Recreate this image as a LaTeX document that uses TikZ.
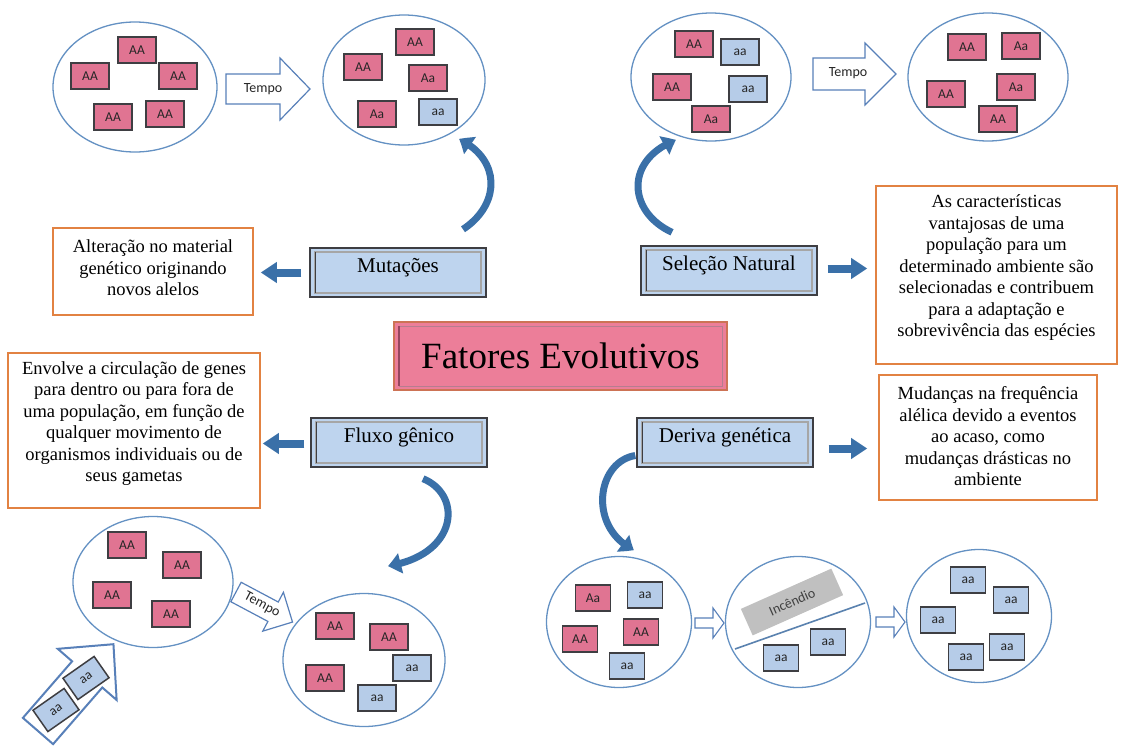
\documentclass[tikz,border=0pt]{standalone}
\usepackage{fontspec}
\setmainfont{Liberation Serif}
\newfontfamily\calib{Carlito}
\usetikzlibrary{arrows.meta,bending,shapes.geometric,calc}

\definecolor{popline}{RGB}{100,145,195}
\definecolor{pinkbox}{RGB}{224,116,146}
\definecolor{bluebox}{RGB}{182,204,232}
\definecolor{boxedge}{RGB}{62,62,66}
\definecolor{labelfill}{RGB}{190,212,238}
\definecolor{titlefill}{RGB}{236,126,153}
\definecolor{titleedge}{RGB}{205,115,85}
\definecolor{titlebevel}{RGB}{150,70,95}
\definecolor{descedge}{RGB}{226,130,66}
\definecolor{arrowblue}{RGB}{58,112,168}
\definecolor{hollowblue}{RGB}{88,128,185}
\definecolor{firegray}{RGB}{192,192,192}

\tikzset{
  pop/.style={ellipse, draw=popline, line width=1.3pt, inner sep=0pt},
  geno/.style={draw=boxedge, line width=1.5pt, minimum width=38pt, minimum height=26pt,
    inner sep=0pt, text=black!85, font=\calib\fontsize{13.5}{14}\selectfont},
  pinkg/.style={geno, fill=pinkbox},
  blueg/.style={geno, fill=bluebox},
  labelbox/.style={draw=boxedge, line width=1.4pt, fill=labelfill, minimum width=176pt,
    minimum height=49pt, inner sep=0pt, text height=24pt, text depth=25pt,
    font=\fontsize{21}{25}\selectfont,
    path picture={
      \draw[black!35, line width=1.1pt]
        ([xshift=5pt,yshift=-4pt]path picture bounding box.north west) rectangle
        ([xshift=-5pt,yshift=4pt]path picture bounding box.south east);
      \draw[boxedge, line width=1pt]
        ([xshift=5pt,yshift=-4pt]path picture bounding box.north west) --
        ([xshift=5pt,yshift=4pt]path picture bounding box.south west);
    }},
  titlebox/.style={draw=titleedge, line width=1.3pt, fill=titlefill, minimum width=333pt,
    minimum height=68pt, inner sep=0pt, font=\fontsize{37}{40}\selectfont,
    path picture={
      \draw[titlebevel!70, line width=1pt]
        ([xshift=5pt,yshift=-4pt]path picture bounding box.north west) rectangle
        ([xshift=-5pt,yshift=4pt]path picture bounding box.south east);
      \draw[titlebevel, line width=1.2pt]
        ([xshift=5pt,yshift=-4pt]path picture bounding box.north west) --
        ([xshift=5pt,yshift=4pt]path picture bounding box.south west);
    }},
  descbox/.style={draw=descedge, line width=1.6pt, fill=white, inner sep=0pt,
    font=\fontsize{18.5}{21.5}\selectfont},
  blockarrow/.style={draw=arrowblue, line width=8pt, -{Triangle[width=20pt,length=16pt]}},
  bendarrow/.style={draw=arrowblue, line width=7pt, -{Triangle[width=20pt,length=13pt,bend]}},
  tempotext/.style={inner sep=0pt, text=black!85, font=\calib\fontsize{14}{15}\selectfont},
  firebox/.style={fill=firegray, minimum width=99pt, minimum height=29pt, inner sep=0pt,
    text=black!75, font=\calib\fontsize{14}{15}\selectfont},
  pics/hollow/.style n args={4}{code={%
    \draw[line join=miter] (0,-#2) -- (#3,-#2) -- (#3,-#4) -- (#1,0) -- (#3,#4)
      -- (#3,#2) -- (0,#2) -- cycle;}},
}

\begin{document}
\begin{tikzpicture}[x=1pt,y=-1pt]
\useasboundingbox[fill=white] (0,0) rectangle (1122,747);

% ---------- central title and the four factors ----------
\node[titlebox] (title) at (560.5,356) {Fatores Evolutivos};
\node[labelbox] (mut)  at (398,272.5) {Mutações};
\node[labelbox] (sel)  at (729,270.5) {Seleção Natural};
\node[labelbox] (flux) at (399,442.5) {Fluxo gênico};
\node[labelbox] (der)  at (725,442.5) {Deriva genética};

% ---------- descriptions ----------
\node[descbox, minimum width=200pt, minimum height=87pt] (mutdesc) at (153,271.5)
  {\parbox{190pt}{\centering Alteração no material\\genético originando\\novos alelos\par\vspace{7pt}}};
\node[descbox, minimum width=252pt, minimum height=155pt] (fluxdesc) at (134,430.5)
  {\parbox{245pt}{\centering Envolve a circulação de genes\\para dentro ou para fora de\\uma população, em função de\\qualquer movimento de\\organismos individuais ou de\\seus gametas\par\vspace{14pt}}};
\node[descbox, minimum width=241pt, minimum height=178pt] (seldesc) at (996.5,275)
  {\parbox{235pt}{\centering As características\\vantajosas de uma\\população para um\\determinado ambiente são\\selecionadas e contribuem\\para a adaptação e\\sobrevivência das espécies\par\vspace{14pt}}};
\node[descbox, minimum width=218pt, minimum height=125pt] (derdesc) at (988,437.5)
  {\parbox{212pt}{\centering Mudanças na frequência\\alélica devido a eventos\\ao acaso, como\\mudanças drásticas no\\ambiente\par\vspace{2pt}}};

% ---------- straight arrows to the descriptions ----------
\draw[blockarrow, shorten <=8pt, shorten >=7pt] (mut.west) -- (mut.west -| mutdesc.east);
\draw[blockarrow, shorten <=10pt, shorten >=8pt] ([yshift=2pt]sel.east) -- ([yshift=2pt]sel.east -| seldesc.west);
\draw[blockarrow, shorten <=6pt, shorten >=2pt] ([yshift=-1pt]flux.west) -- ([yshift=-1pt]flux.west -| fluxdesc.east);
\draw[blockarrow, shorten <=15pt, shorten >=11pt] ([yshift=-6pt]der.east) -- ([yshift=-6pt]der.east -| derdesc.west);

% ---------- mutation: populations ----------
\node[pop, minimum width=164pt, minimum height=130pt] (p1) at (135,87) {};
\foreach \p in {(137,50),(90,76),(178,76),(113,117),(165,114)}
  \node[pinkg] at \p {AA};
\pic[color=hollowblue, line width=1.2pt] at (226,89) {hollow={84}{15}{54}{31}};
\node[tempotext] (t1) at (263,89) {Tempo};

\node[pop, minimum width=162pt, minimum height=130pt] (p2) at (404,80) {};
\node[pinkg] at (415,42) {AA};
\node[pinkg] at (363,67) {AA};
\node[pinkg] at (428,78) {Aa};
\node[pinkg] at (377,114) {Aa};
\node[blueg] at (438,112) {aa};

\coordinate (mutend) at (459,139);
\draw[bendarrow] ($(mut.north)+(65,-18)$) .. controls (500,205) and (502,160) .. (mutend);

% ---------- natural selection: populations ----------
\node[pop, minimum width=160pt, minimum height=128pt] (p3) at (711,77) {};
\node[pinkg] at (694,44) {AA};
\node[blueg] at (740,52) {aa};
\node[pinkg] at (672,87) {AA};
\node[blueg] at (748,89) {aa};
\node[pinkg] at (711,119) {Aa};
\pic[color=hollowblue, line width=1.2pt] at (813,74) {hollow={83}{16}{52}{31}};
\node[tempotext] (t2) at (848,73) {Tempo};

\node[pop, minimum width=160pt, minimum height=128pt] (p4) at (988,77) {};
\node[pinkg] at (967,47) {AA};
\node[pinkg] at (1021,46) {Aa};
\node[pinkg] at (946,94) {AA};
\node[pinkg] at (1016,87) {Aa};
\node[pinkg] at (998,119) {AA};

\coordinate (selend) at (676,140);
\draw[bendarrow] ($(sel.north)+(-57,-13)$) .. controls (628,212) and (624,160) .. (selend);

% ---------- gene flow: populations ----------
\node[pop, minimum width=160pt, minimum height=131pt] (p5) at (153,582) {};
\foreach \p in {(127,545),(182,565),(112,595),(171,614)}
  \node[pinkg] at \p {AA};

\pic[color=hollowblue, line width=1.2pt, rotate=-28] at (236,592) {hollow={64}{11}{42}{22}};
\node[tempotext, rotate=-28] (t3) at (262,605) {Tempo};

\node[pop, minimum width=162pt, minimum height=133pt] (p6) at (364,660) {};
\node[pinkg] at (335,626) {AA};
\node[pinkg] at (389,637) {AA};
\node[blueg] at (412,668) {aa};
\node[pinkg] at (325,678) {AA};
\node[blueg] at (377,698) {aa};

% incoming migrants
\pic[color=hollowblue, line width=2pt, rotate=49] at (38,731) {hollow={115}{20}{75}{39}};
\node[blueg, rotate=35] at (56,710) {aa};
\node[blueg, rotate=35] at (86,678) {aa};

\coordinate (fluxend) at (388,566);
\draw[bendarrow] ($(flux.south)+(24,11)$) .. controls (463,495) and (458,555) .. (fluxend);

% ---------- genetic drift: populations ----------
\node[pop, minimum width=145pt, minimum height=131pt] (p7) at (619,622) {};
\node[pinkg, minimum width=35pt] at (593,598) {Aa};
\node[blueg, minimum width=35pt] at (645,595) {aa};
\node[pinkg, minimum width=35pt] at (580,639) {AA};
\node[pinkg, minimum width=35pt] at (641,632) {AA};
\node[blueg, minimum width=35pt] at (627,666) {aa};

\pic[color=hollowblue, line width=1.1pt] at (695,623) {hollow={29}{5}{18}{15}};

\node[pop, minimum width=145pt, minimum height=131pt] (p8) at (798,622) {};
\node[firebox, rotate=24] (fire) at (792,602) {Incêndio};
\draw[draw=popline!90!black, line width=1.6pt] (735,649) -- (865,603);
\node[blueg, minimum width=35pt] at (781,658) {aa};
\node[blueg, minimum width=35pt] at (828,642) {aa};

\pic[color=hollowblue, line width=1.1pt] at (876,622) {hollow={29}{5}{18}{15}};

\node[pop, minimum width=145pt, minimum height=133pt] (p9) at (979,616) {};
\foreach \p in {(968,580),(1011,600),(938,620),(1007,647),(966,657)}
  \node[blueg, minimum width=35pt] at \p {aa};

\coordinate (derend) at (634,550);
\draw[bendarrow] ($(der.west)+(-1,13)$) .. controls (596,462) and (588,528) .. (derend);
\end{tikzpicture}
\end{document}
